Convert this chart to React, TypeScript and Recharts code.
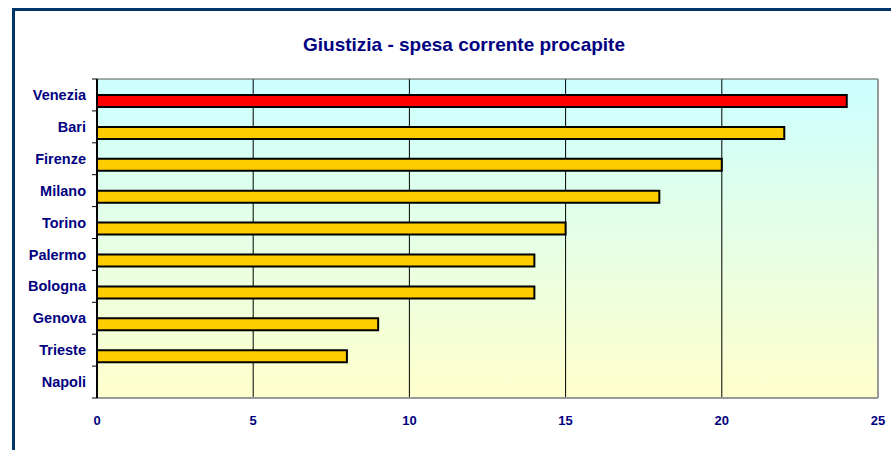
import React from 'react';
import { Bar, BarChart, CartesianGrid, Cell, XAxis, YAxis } from 'recharts';

const cities = ['Venezia', 'Bari', 'Firenze', 'Milano', 'Torino', 'Palermo', 'Bologna', 'Genova', 'Trieste', 'Napoli'];
const spesa = [24, 22, 20, 18, 15, 14, 14, 9, 8, null];
const highlighted = 'Venezia';
const valueTicks = [0, 5, 10, 15, 20, 25];

const data = cities.map((city, i) => ({ city, spesa: spesa[i], vuoto: null }));

const navy = '#000080';
const TICK_SIZE = 6;
const TICK_MARGIN = 5;
const MARK_LEN = 5;

// city label plus the little Excel-style tick marks at the row boundaries
const CityTick = (props: any) => {
  const { x, y, payload, index, visibleTicksCount } = props;
  const half = payload.offset || 0;
  const axisX = x + TICK_SIZE + TICK_MARGIN;
  const isLast = index === visibleTicksCount - 1;
  return (
    <g>
      <line x1={axisX - MARK_LEN} x2={axisX} y1={y - half} y2={y - half} stroke="#000" />
      {isLast && <line x1={axisX - MARK_LEN} x2={axisX} y1={y + half} y2={y + half} stroke="#000" />}
      <text x={x} y={y} dy="0.355em" textAnchor="end" fill={navy} fontSize={14.5} fontWeight="bold">
        {payload.value}
      </text>
    </g>
  );
};

const App: React.FC = () => {
  return (
    <div
      style={{
        position: 'fixed',
        left: 0,
        top: 0,
        width: 891,
        height: 450,
        overflow: 'hidden',
        background: '#fff',
        fontFamily: 'Arial, "Liberation Sans", sans-serif',
      }}
    >
      <div
        style={{
          position: 'absolute',
          left: 12,
          top: 8,
          right: 0,
          bottom: 0,
          borderTop: '3px solid #003366',
          borderLeft: '3px solid #003366',
        }}
      />
      <div
        style={{
          position: 'absolute',
          left: 214,
          top: 34,
          width: 500,
          textAlign: 'center',
          fontSize: 19,
          fontWeight: 'bold',
          color: navy,
        }}
      >
        Giustizia - spesa corrente procapite
      </div>
      <BarChart
        width={891}
        height={450}
        data={data}
        layout="vertical"
        margin={{ top: 74, right: 11, bottom: 12, left: 8 }}
        barSize={12}
        barGap={0}
        style={{ position: 'absolute', left: 0, top: 0 }}
      >
        <defs>
          <linearGradient id="bg" x1="0" y1="0" x2="0" y2="1">
            <stop offset="0%" stopColor="#CCFFFF" />
            <stop offset="100%" stopColor="#FFFFCC" />
          </linearGradient>
        </defs>
        <CartesianGrid horizontal={false} stroke="#000" fill="url(#bg)" fillOpacity={1} xAxisId="bottom" yAxisId="cat" />
        <XAxis
          xAxisId="bottom"
          type="number"
          domain={[0, 25]}
          ticks={valueTicks}
          orientation="bottom"
          height={40}
          tickLine={false}
          tickSize={6}
          tickMargin={12}
          axisLine={{ stroke: '#999', strokeWidth: 2 }}
          tick={{ fill: navy, fontSize: 13, fontWeight: 'bold' }}
        />
        <XAxis
          xAxisId="top"
          type="number"
          domain={[0, 25]}
          ticks={valueTicks}
          interval={0}
          orientation="top"
          height={5}
          tickSize={5}
          tickFormatter={() => ''}
          tickLine={{ stroke: '#000' }}
          axisLine={{ stroke: '#555' }}
        />
        <YAxis
          yAxisId="cat"
          type="category"
          dataKey="city"
          width={89}
          interval={0}
          tickLine={false}
          tickSize={TICK_SIZE}
          tickMargin={TICK_MARGIN}
          axisLine={{ stroke: '#000', strokeWidth: 2 }}
          tick={<CityTick />}
        />
        <YAxis
          yAxisId="edge"
          orientation="right"
          width={2}
          tick={false}
          tickLine={false}
          axisLine={{ stroke: '#999', strokeWidth: 2 }}
        />
        <Bar dataKey="vuoto" xAxisId="bottom" yAxisId="cat" isAnimationActive={false} />
        <Bar dataKey="spesa" xAxisId="bottom" yAxisId="cat" stroke="#000" strokeWidth={2} isAnimationActive={false}>
          {data.map((d) => (
            <Cell key={d.city} fill={d.city === highlighted ? '#FF0000' : '#FFCC00'} />
          ))}
        </Bar>
      </BarChart>
    </div>
  );
};

export default App;
